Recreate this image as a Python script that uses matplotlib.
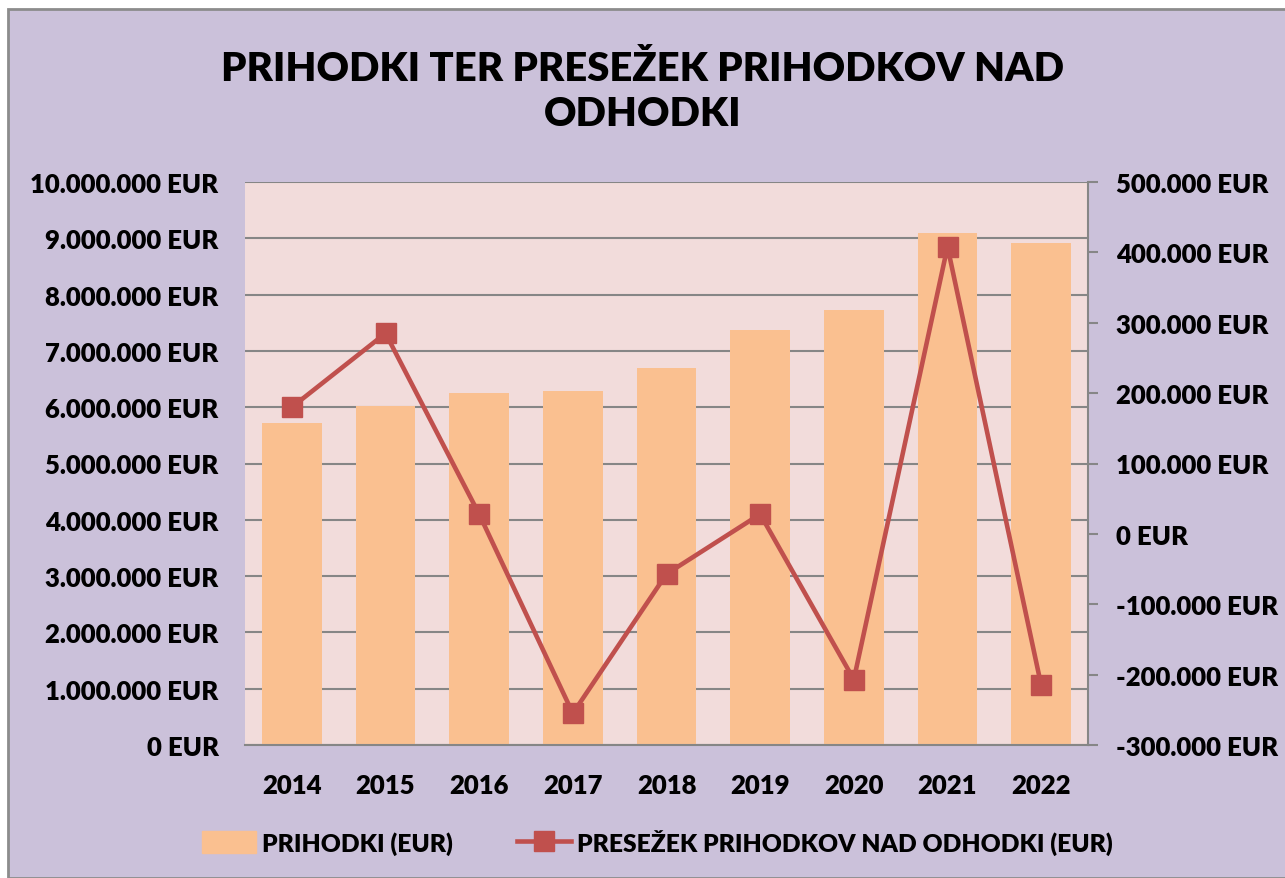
import matplotlib
matplotlib.use("Agg")
import matplotlib.pyplot as plt
import matplotlib.ticker as mticker
from matplotlib.patches import Rectangle, Patch
from matplotlib.lines import Line2D
import numpy as np

years = ["2014", "2015", "2016", "2017", "2018", "2019", "2020", "2021", "2022"]
prihodki = [5720000, 6030000, 6245000, 6280000, 6690000, 7380000, 7720000, 9100000, 8920000]
presezek = [180000, 285000, 28000, -255000, -57000, 28000, -207000, 408000, -215000]

title = "PRIHODKI TER PRESEŽEK PRIHODKOV NAD\nODHODKI"
bar_label = "PRIHODKI (EUR)"
line_label = "PRESEŽEK PRIHODKOV NAD ODHODKI (EUR)"

BG = "#CBC1DA"
PLOT_BG = "#F2DCDB"
BAR = "#FAC090"
LINE = "#C0504D"
GRID = "#868686"

plt.rcParams['font.family'] = ['Lato', 'DejaVu Sans']
W_ = 'heavy'
plt.rcParams['font.weight'] = W_

W, H = 1285, 879
fig = plt.figure(figsize=(W / 100, H / 100), dpi=100, facecolor="white")

fig.patches.append(Rectangle((8 / W, 0), 1 - 8 / W + 0.01, 1 - 10 / H,
                             transform=fig.transFigure, facecolor=BG,
                             edgecolor="#8C8C8C", linewidth=2, zorder=-10))

left, right, top, bottom = 245, 1088, 183, 746
ax = fig.add_axes([left / W, 1 - bottom / H, (right - left) / W, (bottom - top) / H])
ax.set_facecolor(PLOT_BG)

def fmt(v, pos=None):
    s = f"{int(round(v)):,}".replace(",", ".")
    return f"{s} EUR"

x = np.arange(len(years))
ax.bar(x, prihodki, width=0.635, color=BAR, zorder=2)
ax.set_xlim(-0.5, len(years) - 0.5)
ax.set_ylim(0, 10000000)
ax.yaxis.set_major_locator(mticker.MultipleLocator(1000000))
ax.yaxis.set_major_formatter(mticker.FuncFormatter(fmt))
ax.grid(axis="y", color=GRID, linewidth=1.5, zorder=1)
ax.set_axisbelow(True)
ax.set_xticks(x)
ax.set_xticklabels(years)
ax.tick_params(axis="x", length=0, pad=20, labelsize=18.5)
ax.tick_params(axis="y", length=0, pad=19, labelsize=18.5)
for lbl in ax.get_xticklabels() + ax.get_yticklabels():
    lbl.set_fontweight(W_)
for s in ["top", "left", "right"]:
    ax.spines[s].set_visible(False)
ax.spines["bottom"].set_color(GRID)
ax.spines["bottom"].set_linewidth(1.5)

ax2 = ax.twinx()
ax2.plot(x, presezek, color=LINE, linewidth=3.3, marker="s", markersize=14.5,
         markeredgecolor=LINE, zorder=5)
ax2.set_ylim(-300000, 500000)
ax2.yaxis.set_major_locator(mticker.MultipleLocator(100000))
ax2.yaxis.set_major_formatter(mticker.FuncFormatter(fmt))
ax2.tick_params(axis="y", length=7, width=1.5, color=GRID, pad=13, labelsize=18.5)
for lbl in ax2.get_yticklabels():
    lbl.set_fontweight(W_)
for s in ["top", "left", "bottom"]:
    ax2.spines[s].set_visible(False)
ax2.spines["right"].set_color(GRID)
ax2.spines["right"].set_linewidth(1.5)

fig.text(0.5, 1 - 92 / H, title, ha="center", va="center", fontsize=28.8,
         fontweight=W_, linespacing=1.25)

handles = [Patch(facecolor=BAR, edgecolor=BAR),
           Line2D([0], [0], color=LINE, linewidth=3.3, marker="s", markersize=14)]
fig.legend(handles, [bar_label, line_label], loc="center",
           bbox_to_anchor=(657 / W, 1 - 843 / H), ncol=2, frameon=False,
           prop={'size': 17.7, 'weight': W_}, handlelength=2.2, handleheight=1.0,
           columnspacing=2.6, handletextpad=0.25)

fig.savefig("out.png", dpi=100, facecolor="white")
